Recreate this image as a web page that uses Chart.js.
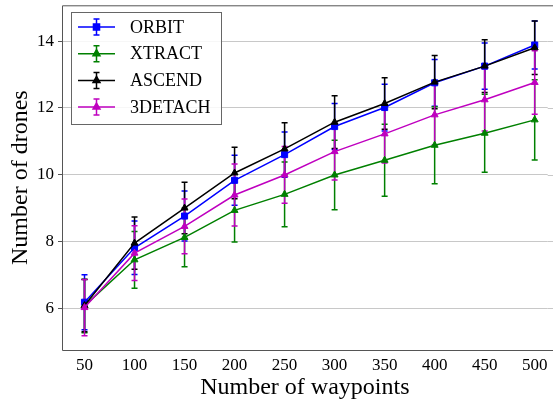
<!DOCTYPE html>
<html>
<head>
<meta charset="utf-8">
<script src="https://cdn.jsdelivr.net/npm/chart.js@4/dist/chart.umd.min.js"></script>
<style>
  html, body { margin:0; padding:0; background:#fff; }
  #wrap { width:553px; height:402px; }
</style>
</head>
<body>
<div id="wrap"><canvas id="chart" width="553" height="402"></canvas></div>
<script>
/* ---------- data ---------- */
const waypoints = [50, 100, 150, 200, 250, 300, 350, 400, 450, 500];
const orbit     = [6.18, 7.81, 8.76, 9.83, 10.60, 11.44, 12.01, 12.75, 13.25, 13.88];
const orbitErr  = [0.82, 0.80, 0.75, 0.75, 0.68, 0.69, 0.70, 0.70, 0.69, 0.72];
const xtract    = [6.07, 7.45, 8.12, 8.93, 9.41, 9.99, 10.43, 10.88, 11.24, 11.64];
const xtractErr = [0.80, 0.85, 0.88, 0.95, 0.97, 1.04, 1.08, 1.15, 1.17, 1.20];
const ascend    = [6.08, 7.95, 9.00, 10.05, 10.77, 11.57, 12.13, 12.77, 13.25, 13.80];
const ascendErr = [0.78, 0.78, 0.77, 0.77, 0.78, 0.79, 0.77, 0.80, 0.79, 0.80];
const detach    = [6.02, 7.65, 8.45, 9.39, 9.99, 10.69, 11.22, 11.79, 12.24, 12.76];
const detachErr = [0.84, 0.82, 0.82, 0.93, 0.85, 0.85, 0.87, 0.90, 0.93, 0.95];

const xTicks = [50, 100, 150, 200, 250, 300, 350, 400, 450, 500];
const yTicks = [6, 8, 10, 12, 14];

const FONT = "'Liberation Serif', 'DejaVu Serif', serif";

function series(label, vals, errs, color, style, order) {
  return {
    label, errs, order,
    data: waypoints.map((x, i) => ({ x, y: vals[i] })),
    borderColor: color, backgroundColor: color,
    borderWidth: 1.5, pointStyle: style,
    pointRadius: style === 'rect' ? 4.3 : 4, pointBorderWidth: 1,
    tension: 0
  };
}

const datasets = [
  series('ORBIT',   orbit,  orbitErr,  '#0000ff', 'rect',     4),
  series('XTRACT',  xtract, xtractErr, '#008000', 'triangle', 3),
  series('ASCEND',  ascend, ascendErr, '#000000', 'triangle', 2),
  series('3DETACH', detach, detachErr, '#bf00bf', 'triangle', 1)
];

/* ---------- error bars ---------- */
const errorBars = {
  id: 'errorBars',
  beforeDatasetsDraw(chart) {
    const { ctx, scales: { x, y } } = chart;
    ctx.save();
    chart.data.datasets.slice().sort((a, b) => b.order - a.order).forEach(ds => {
      ctx.strokeStyle = ds.borderColor;
      ctx.lineWidth = 1.5;
      ds.data.forEach((p, i) => {
        const px = x.getPixelForValue(p.x);
        const top = y.getPixelForValue(p.y + ds.errs[i]);
        const bot = y.getPixelForValue(p.y - ds.errs[i]);
        ctx.beginPath();
        ctx.moveTo(px, top); ctx.lineTo(px, bot);
        ctx.moveTo(px - 3, top); ctx.lineTo(px + 3, top);
        ctx.moveTo(px - 3, bot); ctx.lineTo(px + 3, bot);
        ctx.stroke();
      });
    });
    ctx.restore();
  }
};

/* ---------- frame + legend ---------- */
const frameLegend = {
  id: 'frameLegend',
  afterDraw(chart) {
    const { ctx, chartArea: a } = chart;
    ctx.save();
    // grid lines and spines run to the picture edge (plot is cut off on the right)
    ctx.strokeStyle = '#c8c8c8';
    ctx.lineWidth = 1;
    yTicks.forEach(v => {
      const py = Math.round(chart.scales.y.getPixelForValue(v)) + 0.5;
      ctx.beginPath(); ctx.moveTo(a.right, py); ctx.lineTo(chart.width, py); ctx.stroke();
    });
    ctx.strokeStyle = '#555';
    ctx.beginPath();
    ctx.moveTo(chart.width, a.top + 0.5); ctx.lineTo(a.left + 0.5, a.top + 0.5);
    ctx.lineTo(a.left + 0.5, a.bottom + 0.5); ctx.lineTo(chart.width, a.bottom + 0.5);
    ctx.stroke();

    // legend box
    const lx = 71, ly = 12, lw = 150, lh = 112;
    ctx.fillStyle = 'rgba(255,255,255,0.85)';
    ctx.fillRect(lx, ly, lw, lh);
    ctx.strokeStyle = '#666';
    ctx.strokeRect(lx + 0.5, ly + 0.5, lw, lh);

    ctx.font = '18px ' + FONT;
    ctx.textBaseline = 'middle';
    chart.data.datasets.forEach((ds, i) => {
      const cy = 27 + i * 26.7;
      ctx.strokeStyle = ds.borderColor;
      ctx.lineWidth = 1.5;
      ctx.beginPath();
      ctx.moveTo(78, cy); ctx.lineTo(115, cy);
      ctx.moveTo(96.5, cy - 8); ctx.lineTo(96.5, cy + 8);
      ctx.moveTo(93.5, cy - 8); ctx.lineTo(99.5, cy - 8);
      ctx.moveTo(93.5, cy + 8); ctx.lineTo(99.5, cy + 8);
      ctx.stroke();
      ctx.fillStyle = ds.borderColor;
      Chart.helpers.drawPoint(ctx, { pointStyle: ds.pointStyle, radius: ds.pointRadius, borderWidth: 1 }, 96.5, cy);
      ctx.fill();
      ctx.fillStyle = '#000';
      ctx.fillText(ds.label, 130, cy + 1);
    });
    ctx.restore();
  }
};

function noPad(s) {
  s.paddingLeft = s.paddingRight = s.paddingTop = s.paddingBottom = 0;
}

/* ---------- chart ---------- */
new Chart(document.getElementById('chart'), {
  type: 'line',
  data: { datasets },
  options: {
    responsive: false,
    animation: false,
    layout: { padding: { top: 3, right: 0, left: 0, bottom: 0 } },
    plugins: { legend: { display: false }, tooltip: { enabled: false } },
    scales: {
      x: {
        type: 'linear', min: 27.5, max: 513,
        afterBuildTicks: s => { s.ticks = xTicks.map(v => ({ value: v })); },
        afterFit: s => { s.height = 52; noPad(s); },
        grid: { display: false, drawTicks: true, tickLength: 4, tickColor: '#555' },
        border: { display: false },
        ticks: { color: '#000', font: { family: FONT, size: 17 }, padding: 1, maxRotation: 0 },
        title: { display: true, text: 'Number of waypoints', color: '#000', font: { family: FONT, size: 24 }, padding: { top: 0, bottom: 0 } }
      },
      y: {
        min: 4.75, max: 15.07,
        afterBuildTicks: s => { s.ticks = yTicks.map(v => ({ value: v })); },
        afterFit: s => { s.width = 62; noPad(s); },
        grid: { color: '#c8c8c8', lineWidth: 1, tickLength: 4, tickColor: '#555' },
        border: { display: false },
        ticks: { color: '#000', font: { family: FONT, size: 17 }, padding: 4 },
        title: { display: true, text: 'Number of drones', color: '#000', font: { family: FONT, size: 24 }, padding: { top: 6, bottom: 0 } }
      }
    }
  },
  plugins: [errorBars, frameLegend]
});
</script>
</body>
</html>
